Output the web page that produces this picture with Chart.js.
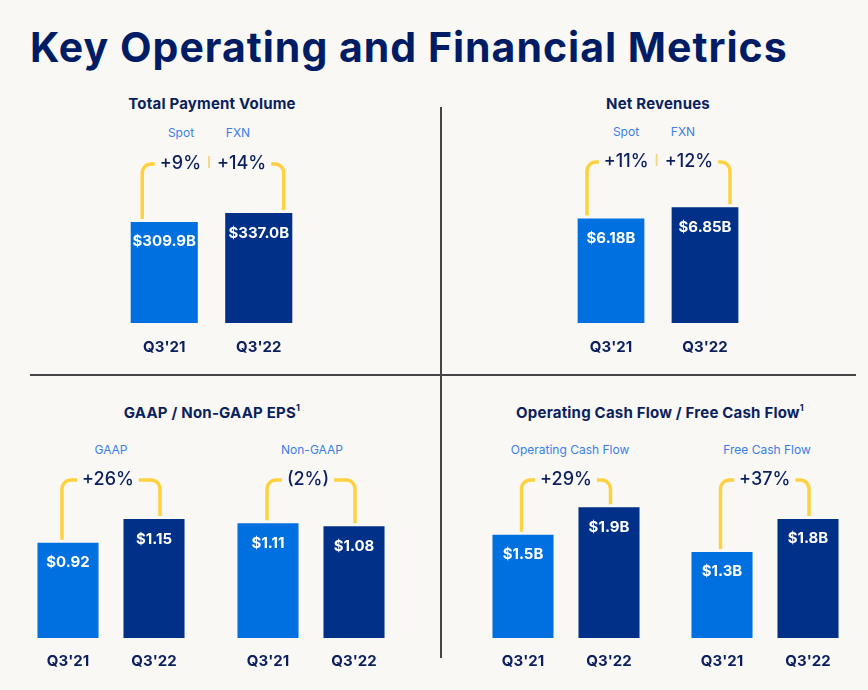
<!DOCTYPE html>
<html>
<head>
<meta charset="utf-8">
<script src="https://cdn.jsdelivr.net/npm/chart.js@4.4.0/dist/chart.umd.min.js"></script>
<style>
  body { margin: 0; background: #f9f8f5; font-family: Inter, "Noto Sans", sans-serif; color: #0b1f5c; }
  #page { position: relative; width: 868px; height: 690px; overflow: hidden; }
  h1 { position: absolute; left: 30px; top: 27px; margin: 0; font-size: 41px; line-height: 41px; font-weight: 700; color: #001c64; letter-spacing: 1px; white-space: nowrap; }
  .t { position: absolute; transform: translate(-50%, -50%); white-space: nowrap; }
  .h { font-weight: 700; font-size: 15px; letter-spacing: 0.2px; }
  .h sup { font-size: 9px; position: relative; top: -1px; }
  .s { font-size: 12px; color: #3b7fe6; }
  .box { position: absolute; }
  .rule { position: absolute; background: #454545; }
</style>
</head>
<body>
<div id="page">
  <h1>Key Operating and Financial Metrics</h1>

  <div class="rule" style="left:440px;top:107px;width:2px;height:551px"></div>
  <div class="rule" style="left:30px;top:374px;width:826px;height:2px"></div>

  <div class="t h" style="left:212px;top:103px">Total Payment Volume</div>
  <div class="t s" style="left:181px;top:132px">Spot</div>
  <div class="t s" style="left:238px;top:132px">FXN</div>

  <div class="t h" style="left:658px;top:103px">Net Revenues</div>
  <div class="t s" style="left:626px;top:131px">Spot</div>
  <div class="t s" style="left:683px;top:131px">FXN</div>

  <div class="t h" style="left:212px;top:412px">GAAP / Non-GAAP EPS<sup>1</sup></div>
  <div class="t s" style="left:111px;top:449px">GAAP</div>
  <div class="t s" style="left:312px;top:449px">Non-GAAP</div>

  <div class="t h" style="left:660px;top:412px">Operating Cash Flow / Free Cash Flow<sup>1</sup></div>
  <div class="t s" style="left:570px;top:449px">Operating Cash Flow</div>
  <div class="t s" style="left:767px;top:449px">Free Cash Flow</div>

  <div class="box" style="left:117px;top:140px;width:189px;height:240px"><canvas id="tpvChart"></canvas></div>
  <div class="box" style="left:564px;top:140px;width:188px;height:240px"><canvas id="revChart"></canvas></div>
  <div class="box" style="left:25px;top:460px;width:172px;height:229px"><canvas id="gaapChart"></canvas></div>
  <div class="box" style="left:225px;top:460px;width:172px;height:229px"><canvas id="nonGaapChart"></canvas></div>
  <div class="box" style="left:480px;top:460px;width:172px;height:229px"><canvas id="ocfChart"></canvas></div>
  <div class="box" style="left:679px;top:460px;width:172px;height:229px"><canvas id="fcfChart"></canvas></div>
</div>

<script>
// data
var quarters = ["Q3'21", "Q3'22"];
var tpv = [309.9, 337.0];
var netRevenues = [6.18, 6.85];
var gaapEps = [0.92, 1.15];
var nonGaapEps = [1.11, 1.08];
var opCashFlow = [1.5, 1.9];
var freeCashFlow = [1.3, 1.8];

var tpvGrowth = ["+9%", "+14%"];   // spot, FXN
var revGrowth = ["+11%", "+12%"];
var gaapGrowth = ["+26%"];
var nonGaapGrowth = ["(2%)"];
var ocfGrowth = ["+29%"];
var fcfGrowth = ["+37%"];

var navy = "#0b1f5c";
var font = "Inter, 'Noto Sans', sans-serif";

// value labels inside the bars + the yellow growth bracket
var bracketPlugin = {
  id: "bracket",
  afterDraw: function (chart, args, opts) {
    var ctx = chart.ctx;
    var bars = chart.getDatasetMeta(0).data;
    var values = chart.data.datasets[0].data;

    ctx.save();
    ctx.fillStyle = "#ffffff";
    ctx.font = "bold 15px " + font;
    ctx.textAlign = "center";
    ctx.textBaseline = "middle";
    bars.forEach(function (bar, i) {
      ctx.fillText(opts.format(values[i]), bar.x, bar.y + 20);
    });

    var x1 = bars[0].x + opts.dxL;
    var x2 = bars[1].x + opts.dxR;
    var y = opts.y;
    var r = 9;

    ctx.font = "500 18px " + font;
    var widths = opts.labels.map(function (s) { return ctx.measureText(s).width; });
    var gap = 8;
    var total = widths.length == 2 ? widths[0] + widths[1] + gap * 2 : widths[0];
    var start = (x1 + x2) / 2 - total / 2 + (opts.shift || 0);
    var end = start + total;

    ctx.fillStyle = navy;
    ctx.textAlign = "left";
    ctx.fillText(opts.labels[0], start, y);
    if (widths.length == 2) {
      ctx.fillText(opts.labels[1], start + widths[0] + gap * 2, y);
      ctx.strokeStyle = "#f5d98a";
      ctx.lineWidth = 2;
      ctx.beginPath();
      ctx.moveTo(start + widths[0] + gap, y - 8);
      ctx.lineTo(start + widths[0] + gap, y + 4);
      ctx.stroke();
    }

    ctx.strokeStyle = "#ffd140";
    ctx.lineWidth = 3.5;
    ctx.beginPath();
    ctx.moveTo(x1, bars[0].y - 3);
    ctx.lineTo(x1, y + r);
    ctx.arcTo(x1, y, x1 + r, y, r);
    ctx.lineTo(start - 5, y);
    ctx.moveTo(end + 5, y);
    ctx.lineTo(x2 - r, y);
    ctx.arcTo(x2, y, x2, y + r, r);
    ctx.lineTo(x2, bars[1].y - 3);
    ctx.stroke();
    ctx.restore();
  }
};

function barChart(id, values, yMax, tickPad, bottomPad, bracket) {
  return new Chart(document.getElementById(id), {
    type: "bar",
    data: {
      labels: quarters,
      datasets: [{
        data: values,
        backgroundColor: ["#0070e0", "#003087"],
        borderWidth: 0,
        barPercentage: 0.71,
        categoryPercentage: 1,
      }],
    },
    options: {
      responsive: true,
      maintainAspectRatio: false,
      animation: false,
      layout: { padding: { top: 0, right: 0, left: 0, bottom: bottomPad } },
      scales: {
        x: {
          grid: { display: false, drawTicks: false },
          border: { display: false },
          ticks: { padding: tickPad, color: navy, font: { family: font, size: 15, weight: "bold" } },
        },
        y: { display: false, min: 0, max: yMax },
      },
      plugins: {
        legend: { display: false },
        tooltip: { enabled: false },
        bracket: bracket,
      },
    },
    plugins: [bracketPlugin],
  });
}

var billions1 = function (v) { return "$" + v.toFixed(1) + "B"; };
var billions2 = function (v) { return "$" + v.toFixed(2) + "B"; };
var dollars = function (v) { return "$" + v.toFixed(2); };

barChart("tpvChart", tpv, 561, 15, 9, { y: 24, dxL: -22, dxR: 25, labels: tpvGrowth, format: billions1 });
barChart("revChart", netRevenues, 10.83, 15, 9, { y: 22, dxL: -24, dxR: 25, labels: revGrowth, format: billions2 });
barChart("gaapChart", gaapEps, 1.72, 14, 5, { y: 20, dxL: -6, dxR: 6, labels: gaapGrowth, format: dollars, shift: -3 });
barChart("nonGaapChart", nonGaapEps, 1.72, 14, 5, { y: 20, dxL: -1, dxR: 1, labels: nonGaapGrowth, format: dollars, shift: -3 });
barChart("ocfChart", opCashFlow, 2.587, 14, 5, { y: 20, dxL: -1.5, dxR: 1.5, labels: ocfGrowth, format: billions1 });
barChart("fcfChart", freeCashFlow, 2.69, 14, 5, { y: 20, dxL: -1.5, dxR: 1, labels: fcfGrowth, format: billions1 });
</script>
</body>
</html>
